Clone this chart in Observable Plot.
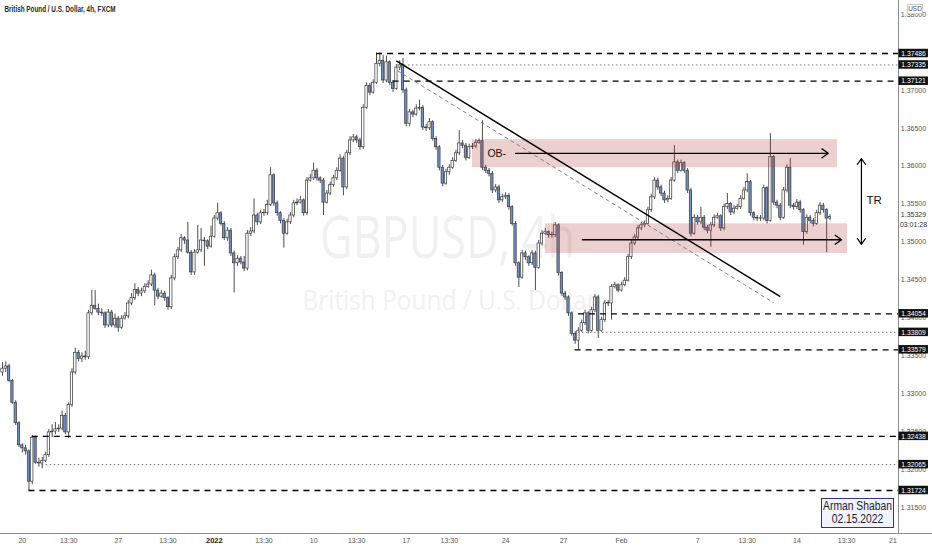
<!DOCTYPE html>
<html>
<head>
<meta charset="utf-8">
<script src="https://cdn.jsdelivr.net/npm/d3@7"></script>
<script src="https://cdn.jsdelivr.net/npm/@observablehq/plot@0.6"></script>
<style>
  html, body { margin: 0; padding: 0; background: #fff; }
  #wrap { position: relative; width: 932px; height: 550px; overflow: hidden; }
  #usd { position: absolute; left: 907px; top: 4px; width: 16px; height: 10px; box-sizing: border-box;
         border: 1px solid #cfcfcf; background: #fff; font: 6.5px "Liberation Sans", Arial, sans-serif;
         color: #555; text-align: center; line-height: 8px; }
  #sig { position: absolute; left: 821px; top: 498px; width: 73px; height: 30px; box-sizing: border-box;
         border: 1.5px solid #34347e; background: #f3f3fb; color: #1c1c3c; text-align: center; }
  #sig div { font: 12px "Liberation Sans", Arial, sans-serif; line-height: 13px; white-space: nowrap;
             transform: scaleX(0.86); margin: 1px -10px 0; }
</style>
</head>
<body>
<div id="wrap">
  <div id="chart"></div>
  <div id="usd">USD</div>
  <div id="sig"><div>Arman Shaban<br>02.15.2022</div></div>
</div>
<script>
// GBPUSD 4h candles (open = previous close)
const firstOpen = 1.3328;
const closes = [
  1.3333,1.3336,1.3317,1.3288,1.3261,1.3232,1.3228,1.3224,1.3184,1.3242,
  1.3209,1.3208,1.3211,1.3219,1.3249,1.3250,1.3253,1.3254,1.3271,1.3249,
  1.3285,1.3328,1.3354,1.3346,1.3349,1.3348,1.3406,1.3416,1.3412,1.3407,
  1.3406,1.3390,1.3407,1.3390,1.3399,1.3387,1.3399,1.3402,1.3419,1.3426,
  1.3437,1.3432,1.3435,1.3441,1.3444,1.3456,1.3436,1.3428,1.3432,1.3426,
  1.3414,1.3452,1.3480,1.3489,1.3505,1.3502,1.3486,1.3460,1.3486,1.3489,
  1.3502,1.3501,1.3494,1.3507,1.3531,1.3538,1.3524,1.3505,1.3515,1.3485,
  1.3472,1.3478,1.3473,1.3465,1.3511,1.3514,1.3535,1.3526,1.3538,1.3538,
  1.3549,1.3588,1.3551,1.3538,1.3528,1.3511,1.3526,1.3535,1.3551,1.3552,
  1.3555,1.3538,1.3581,1.3584,1.3594,1.3584,1.3581,1.3552,1.3564,1.3575,
  1.3584,1.3594,1.3610,1.3572,1.3617,1.3634,1.3638,1.3634,1.3625,1.3677,
  1.3706,1.3697,1.3710,1.3735,1.3739,1.3713,1.3737,1.3710,1.3702,1.3730,
  1.3733,1.3700,1.3656,1.3671,1.3668,1.3676,1.3677,1.3651,1.3650,1.3658,
  1.3636,1.3625,1.3598,1.3577,1.3592,1.3598,1.3607,1.3617,1.3630,1.3627,
  1.3611,1.3625,1.3626,1.3631,1.3633,1.3598,1.3594,1.3590,1.3568,1.3572,
  1.3555,1.3559,1.3561,1.3546,1.3524,1.3472,1.3453,1.3485,1.3480,1.3472,
  1.3485,1.3466,1.3498,1.3511,1.3513,1.3509,1.3509,1.3522,1.3459,1.3432,
  1.3427,1.3406,1.3379,1.3370,1.3383,1.3393,1.3406,1.3383,1.3410,1.3427,
  1.3383,1.3397,1.3419,1.3419,1.3441,1.3443,1.3436,1.3443,1.3449,1.3480,
  1.3498,1.3506,1.3518,1.3522,1.3524,1.3542,1.3559,1.3581,1.3572,1.3564,
  1.3555,1.3557,1.3581,1.3605,1.3594,1.3604,1.3594,1.3568,1.3511,1.3532,
  1.3526,1.3532,1.3519,1.3515,1.3522,1.3532,1.3534,1.3518,1.3546,1.3550,
  1.3539,1.3544,1.3546,1.3557,1.3568,1.3579,1.3538,1.3532,1.3531,1.3531,
  1.3571,1.3528,1.3612,1.3552,1.3548,1.3532,1.3568,1.3598,1.3548,1.3546,
  1.3552,1.3542,1.3513,1.3532,1.3528,1.3524,1.3538,1.3548,1.3542,1.3531,
  1.35329
];
const highs = [
  1.3341,1.3342,1.3339,1.3319,1.3291,1.3263,1.3234,1.3232,1.3226,1.3245,
  1.3244,1.3215,1.3216,1.3223,1.3253,1.3259,1.3262,1.3259,1.3277,1.3274,
  1.3288,1.3333,1.3360,1.3357,1.3354,1.3356,1.3410,1.3436,1.3436,1.3418,
  1.3412,1.3408,1.3411,1.3410,1.3405,1.3402,1.3403,1.3407,1.3423,1.3432,
  1.3445,1.3440,1.3439,1.3445,1.3449,1.3463,1.3459,1.3439,1.3436,1.3435,
  1.3428,1.3456,1.3484,1.3493,1.3510,1.3507,1.3526,1.3489,1.3490,1.3522,
  1.3518,1.3506,1.3503,1.3521,1.3535,1.3551,1.3540,1.3527,1.3519,1.3518,
  1.3488,1.3482,1.3481,1.3481,1.3515,1.3519,1.3557,1.3538,1.3542,1.3543,
  1.3555,1.3598,1.3590,1.3554,1.3540,1.3531,1.3530,1.3539,1.3555,1.3557,
  1.3560,1.3557,1.3585,1.3589,1.3604,1.3597,1.3586,1.3584,1.3568,1.3579,
  1.3588,1.3598,1.3615,1.3613,1.3621,1.3639,1.3642,1.3641,1.3637,1.3681,
  1.3710,1.3709,1.3714,1.3749,1.3749,1.3746,1.3745,1.3739,1.3713,1.3734,
  1.3739,1.3742,1.3703,1.3675,1.3674,1.3681,1.3687,1.3680,1.3655,1.3663,
  1.3660,1.3639,1.3627,1.3601,1.3596,1.3602,1.3611,1.3621,1.3647,1.3634,
  1.3630,1.3629,1.3630,1.3635,1.3636,1.3660,1.3601,1.3597,1.3593,1.3576,
  1.3575,1.3563,1.3565,1.3564,1.3548,1.3527,1.3474,1.3489,1.3488,1.3482,
  1.3489,1.3488,1.3502,1.3515,1.3518,1.3515,1.3513,1.3526,1.3524,1.3461,
  1.3435,1.3429,1.3408,1.3382,1.3387,1.3397,1.3410,1.3408,1.3414,1.3431,
  1.3430,1.3401,1.3423,1.3423,1.3444,1.3447,1.3445,1.3447,1.3453,1.3484,
  1.3502,1.3510,1.3522,1.3526,1.3528,1.3546,1.3563,1.3585,1.3584,1.3575,
  1.3567,1.3561,1.3585,1.3627,1.3608,1.3608,1.3606,1.3597,1.3571,1.3536,
  1.3535,1.3546,1.3535,1.3522,1.3526,1.3536,1.3538,1.3536,1.3550,1.3564,
  1.3552,1.3548,1.3550,1.3561,1.3572,1.3590,1.3581,1.3540,1.3535,1.3535,
  1.3575,1.3573,1.3643,1.3614,1.3555,1.3551,1.3572,1.3602,1.3610,1.3551,
  1.3556,1.3555,1.3544,1.3536,1.3535,1.3531,1.3542,1.3552,1.3551,1.3544,
  1.3536
];
const lows = [
  1.3323,1.3328,1.3315,1.3286,1.3258,1.3229,1.3222,1.3219,1.3172,1.3180,
  1.3207,1.3203,1.3201,1.3209,1.3216,1.3242,1.3246,1.3249,1.3251,1.3246,
  1.3241,1.3282,1.3325,1.3342,1.3341,1.3344,1.3345,1.3403,1.3410,1.3403,
  1.3402,1.3386,1.3387,1.3387,1.3386,1.3381,1.3385,1.3397,1.3399,1.3416,
  1.3423,1.3428,1.3428,1.3432,1.3439,1.3441,1.3416,1.3424,1.3426,1.3422,
  1.3410,1.3411,1.3449,1.3477,1.3486,1.3497,1.3484,1.3456,1.3456,1.3484,
  1.3486,1.3468,1.3490,1.3492,1.3505,1.3528,1.3521,1.3502,1.3501,1.3481,
  1.3433,1.3468,1.3470,1.3461,1.3462,1.3507,1.3511,1.3522,1.3523,1.3534,
  1.3535,1.3547,1.3547,1.3534,1.3524,1.3492,1.3509,1.3523,1.3532,1.3548,
  1.3550,1.3534,1.3535,1.3579,1.3581,1.3580,1.3577,1.3535,1.3550,1.3561,
  1.3572,1.3581,1.3592,1.3561,1.3569,1.3614,1.3631,1.3630,1.3621,1.3622,
  1.3675,1.3693,1.3695,1.3708,1.3731,1.3709,1.3710,1.3706,1.3697,1.3700,
  1.3726,1.3696,1.3652,1.3652,1.3664,1.3666,1.3673,1.3647,1.3646,1.3647,
  1.3633,1.3621,1.3594,1.3573,1.3575,1.3588,1.3596,1.3605,1.3614,1.3623,
  1.3607,1.3609,1.3622,1.3623,1.3629,1.3594,1.3590,1.3586,1.3564,1.3565,
  1.3551,1.3552,1.3556,1.3542,1.3521,1.3468,1.3440,1.3451,1.3476,1.3468,
  1.3469,1.3436,1.3464,1.3495,1.3509,1.3505,1.3505,1.3506,1.3455,1.3428,
  1.3423,1.3402,1.3376,1.3365,1.3358,1.3381,1.3390,1.3379,1.3381,1.3407,
  1.3373,1.3381,1.3394,1.3415,1.3397,1.3438,1.3433,1.3434,1.3441,1.3447,
  1.3477,1.3495,1.3503,1.3515,1.3519,1.3522,1.3539,1.3556,1.3568,1.3560,
  1.3551,1.3552,1.3555,1.3579,1.3590,1.3592,1.3590,1.3564,1.3507,1.3509,
  1.3522,1.3523,1.3515,1.3511,1.3493,1.3519,1.3530,1.3514,1.3515,1.3543,
  1.3535,1.3536,1.3542,1.3543,1.3555,1.3565,1.3534,1.3528,1.3527,1.3527,
  1.3528,1.3524,1.3526,1.3548,1.3544,1.3528,1.3530,1.3565,1.3544,1.3542,
  1.3543,1.3538,1.3496,1.3510,1.3524,1.3520,1.3522,1.3535,1.3538,1.3486,
  1.3528
];

// axis ticks
const yTicks = [1.38, 1.375, 1.37, 1.365, 1.36, 1.355, 1.35, 1.345, 1.34, 1.335, 1.33, 1.325, 1.32, 1.315];
const xTickIdx = [6, 20, 35, 50, 64, 79, 94, 107, 122, 135, 152, 169.5, 187, 210, 225, 240, 255, 269];
const xTickLabels = ["20", "13:30", "27", "13:30", "2022", "13:30", "10", "13:30", "17", "13:30", "24", "27", "Feb", "7", "13:30", "14", "13:30", "21"];

// horizontal levels (price, candle where the line starts)
const dashedLevels = [1.37486, 1.37121, 1.34054, 1.33579, 1.32438, 1.31724];
const dashedFrom = [113, 118, 174, 173, 9, 8];
const dottedLevels = [1.37335, 1.33809, 1.32065];
const dottedFrom = [119, 174, 12];
const timeLeft = "03:01:28";

// boxes (order block + range floor)
const zoneTop = [1.3635, 1.3524];
const zoneBottom = [1.3598, 1.3485];
const zoneFrom = [142, 164];
const zoneTo = [252.3, 255.3];

// trend lines: solid, then the thin dashed parallel
const trendFrom = [119, 119.3];
const trendFromPrice = [1.3739, 1.3726];
const trendTo = [235, 233];
const trendToPrice = [1.3428, 1.3420];

// horizontal arrows and the TR range arrow
const arrowFrom = [155, 175.2];
const arrowTo = [249.5, 253.5];
const arrowPrice = [1.3617, 1.3503];
const trIdx = 259.5, trTop = 1.3610, trBottom = 1.3497;
const obLabel = {idx: 146.5, price: 1.3617};
const trLabel = {idx: 261, price: 1.3555};

const X_MIN = -0.6, X_MAX = 270.7;
const Y_MIN = 1.31157, Y_MAX = 1.38185;

const candles = closes.map((close, i) => ({
  i, close, high: highs[i], low: lows[i],
  open: i === 0 ? firstOpen : closes[i - 1]
}));
const zones = zoneTop.map((t, i) => ({top: t, bottom: zoneBottom[i], from: zoneFrom[i], to: zoneTo[i]}));
const trends = trendFrom.map((f, i) => ({x1: f, y1: trendFromPrice[i], x2: trendTo[i], y2: trendToPrice[i]}));
const arrows = arrowFrom.map((f, i) => ({x1: f, x2: arrowTo[i], y: arrowPrice[i]}));
const allLevels = dashedLevels.concat(dottedLevels);
const lastClose = closes[closes.length - 1];
const trMid = (trTop + trBottom) / 2;

const axisGrey = "#555";
const font = "'Liberation Sans', Arial, sans-serif";
const bigMark = "GBPUSD, 4h";
const smallMark = "British Pound / U.S. Dollar";
const title = "British Pound / U.S. Dollar, 4h, FXCM";

const chart = Plot.plot({
  width: 932,
  height: 550,
  marginLeft: 0,
  marginRight: 34,
  marginTop: 0,
  marginBottom: 17,
  style: {fontFamily: font, background: "#fff", overflow: "visible"},
  x: {domain: [X_MIN, X_MAX], axis: null},
  y: {domain: [Y_MIN, Y_MAX], axis: null},
  marks: [
    // watermark
    Plot.text([bigMark], {frameAnchor: "middle", text: d => d, fontSize: 58, fill: "#f0f0f0",
      fontFamily: "'Open Sans', sans-serif", dx: -2, dy: -28}),
    Plot.text([smallMark], {frameAnchor: "middle", text: d => d, fontSize: 27, fill: "#f1f1f1",
      fontFamily: "'Open Sans', sans-serif", dx: 0, dy: 34}),
    Plot.text([title], {frameAnchor: "top-left", text: d => d, fontSize: 9,
      fill: "#2a2a2a", dx: 4, dy: 5, fontWeight: "bold"}),

    // candles
    Plot.ruleX(candles, {x: "i", y1: "low", y2: "high", stroke: "#3a3a3a", strokeWidth: 0.9}),
    Plot.rect(candles, {
      x1: d => d.i - 0.35, x2: d => d.i + 0.35,
      y1: "open", y2: d => d.close === d.open ? d.close + 0.00005 : d.close,
      fill: d => d.close >= d.open ? "#ffffff" : "#6f8fc7",
      stroke: "#3a3a3a", strokeWidth: 0.7
    }),

    // zones
    Plot.rect(zones, {x1: "from", x2: "to", y1: "bottom", y2: "top", fill: "#b03a3a", fillOpacity: 0.24}),

    // levels
    Plot.ruleY(dashedLevels, {y: d => d, x1: (d, i) => dashedFrom[i], x2: () => X_MAX,
      stroke: "#000", strokeWidth: 1.3, strokeDasharray: "6,5"}),
    Plot.ruleY(dottedLevels, {y: d => d, x1: (d, i) => dottedFrom[i], x2: () => X_MAX,
      stroke: "#666", strokeWidth: 0.9, strokeDasharray: "1.5,2.5"}),

    // trend lines
    Plot.link(trends.slice(0, 1), {x1: "x1", y1: "y1", x2: "x2", y2: "y2", stroke: "#000", strokeWidth: 1.4}),
    Plot.link(trends.slice(1), {x1: "x1", y1: "y1", x2: "x2", y2: "y2", stroke: "#777", strokeWidth: 0.9, strokeDasharray: "4,3"}),

    // arrows
    Plot.arrow(arrows, {x1: "x1", x2: "x2", y1: "y", y2: "y", stroke: "#000", strokeWidth: 1.3, headLength: 9, headAngle: 70}),
    Plot.arrow([trTop, trBottom], {x1: () => trIdx, x2: () => trIdx, y1: () => trMid, y2: d => d,
      stroke: "#000", strokeWidth: 1.2, headLength: 9, headAngle: 70}),
    Plot.text([obLabel], {x: "idx", y: "price", text: () => "OB-", textAnchor: "start", fontSize: 10.5, fill: "#111"}),
    Plot.text([trLabel], {x: "idx", y: "price", text: () => "TR", textAnchor: "start", fontSize: 11.5, fill: "#111"}),

    // axes lines
    Plot.ruleX([X_MAX], {stroke: "#8c8c8c", strokeWidth: 1}),
    Plot.ruleY([Y_MIN], {x1: () => X_MIN, x2: () => X_MAX + 10.4, stroke: "#8c8c8c", strokeWidth: 1}),

    // price scale
    Plot.text(yTicks, {y: d => d, frameAnchor: "right", textAnchor: "middle", dx: 15, text: d => d.toFixed(5),
      fontSize: 7, fill: axisGrey}),
    Plot.rect(allLevels, {x1: () => X_MAX + 0.15, x2: () => X_MAX + 9.05, y1: d => d - 0.00056, y2: d => d + 0.00056, fill: "#111"}),
    Plot.text(allLevels, {y: d => d, frameAnchor: "right", textAnchor: "middle", dx: 15, text: d => d.toFixed(5),
      fontSize: 6.8, fill: "#fff"}),
    Plot.text([lastClose], {y: d => d, frameAnchor: "right", textAnchor: "middle", dx: 15, dy: -2,
      text: d => d.toFixed(5), fontSize: 7, fill: "#333"}),
    Plot.text([lastClose], {y: d => d, frameAnchor: "right", textAnchor: "middle", dx: 15, dy: 8,
      text: () => timeLeft, fontSize: 7, fill: "#333"}),

    // time scale
    Plot.text(xTickIdx, {x: d => d, frameAnchor: "bottom", dy: 9, text: (d, i) => xTickLabels[i],
      filter: (d, i) => xTickLabels[i] !== "2022", fontSize: 7, fill: axisGrey}),
    Plot.text(xTickIdx, {x: d => d, frameAnchor: "bottom", dy: 9, text: (d, i) => xTickLabels[i],
      filter: (d, i) => xTickLabels[i] === "2022", fontSize: 7.5, fontWeight: "bold", fill: "#222"})
  ]
});

document.getElementById("chart").append(chart);

// squeeze the wide texts to the narrow widths of the screenshot
const fitWidth = new Map([[bigMark, 255], [smallMark, 294], [title, 111]]);
d3.select(chart).selectAll("text")
  .filter(function() { return fitWidth.has(this.textContent); })
  .each(function() {
    d3.select(this)
      .attr("textLength", fitWidth.get(this.textContent))
      .attr("lengthAdjust", "spacingAndGlyphs");
  });
</script>
</body>
</html>
